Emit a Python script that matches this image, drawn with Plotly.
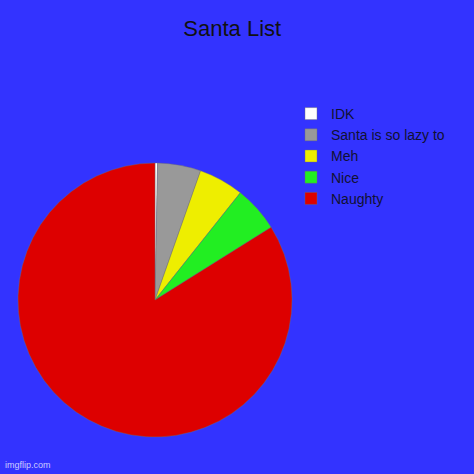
import plotly.graph_objects as go

labels = ['IDK', 'Santa is so lazy to', 'Meh', 'Nice', 'Naughty']
values = [0.3, 5.1, 5.3, 5.4, 83.9]
colors = ['#ffffff', '#999999', '#eeee00', '#22ee22', '#dd0000']

W = 474
fig = go.Figure(go.Pie(
  labels = labels,
  values = values,
  sort = False,
  direction = 'clockwise',
  rotation = 0,
  textinfo = 'none',
  hoverinfo = 'label+percent',
  marker = dict(colors = colors, line = dict(width = 0.6, color = 'rgba(110,110,110,0.7)')),
  domain = dict(x = [18/W, 292/W], y = [37/W, 311/W]),
))

fig.update_layout(
  width = W, height = W,
  margin = dict(l = 0, r = 0, t = 0, b = 0),
  paper_bgcolor = '#3333ff',
  font = dict(family = 'Liberation Sans, Arial', color = '#111133'),
  title = dict(text = 'Santa List', x = 0.49, xanchor = 'center', y = 1 - 28/W, yanchor = 'middle',
               font = dict(size = 22, color = '#111111')),
  legend = dict(x = 291/W, y = 1 - 98/W, xanchor = 'left', yanchor = 'top', itemwidth = 30,
                font = dict(size = 14, color = '#111133'), bgcolor = 'rgba(0,0,0,0)'),
  annotations = [dict(text = 'imgflip.com', x = 3/W, y = 2/W, xref = 'paper', yref = 'paper',
                      xanchor = 'left', yanchor = 'bottom', showarrow = False,
                      font = dict(size = 9, color = '#ccccff'))],
)

# drop the page's default body margin so the figure fills the window
fig.write_html('out.html', config = dict(displayModeBar = False),
               post_script = "document.body.style.margin = '0';")
